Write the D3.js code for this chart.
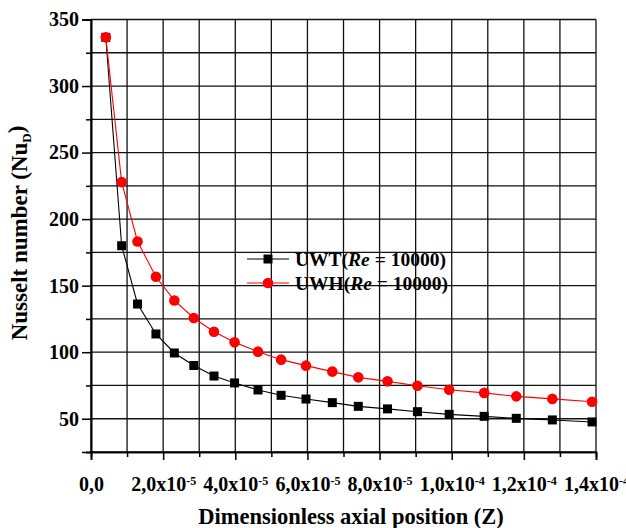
<!DOCTYPE html>
<html>
<head>
<meta charset="utf-8">
<script src="https://cdn.jsdelivr.net/npm/d3@7"></script>
<style>
  body { margin: 0; background: #fff; }
  text { font-family: "Liberation Serif", "Times New Roman", serif; font-weight: bold; }
</style>
</head>
<body>
<div id="chart"></div>
<script>
// data
var zPos = [0.41e-5, 0.85e-5, 1.29e-5, 1.80e-5, 2.31e-5, 2.85e-5, 3.41e-5, 3.98e-5, 4.63e-5, 5.27e-5,
            5.96e-5, 6.69e-5, 7.41e-5, 8.22e-5, 9.05e-5, 9.93e-5, 10.9e-5, 11.79e-5, 12.79e-5, 13.89e-5];
var nuUWT = [336.6, 180, 136.2, 113.7, 99.4, 90, 82.1, 76.9, 71.6, 67.6,
             64.8, 62.1, 59.3, 57.4, 55.3, 53.3, 51.8, 50.3, 49.1, 47.6];
var nuUWH = [336.6, 227.8, 183.2, 156.7, 138.9, 125.7, 115.4, 107.4, 100.4, 94.4,
             89.9, 85.4, 81.1, 78.1, 74.8, 71.8, 69.4, 66.8, 64.9, 62.8];

var xMajor = [0, 2e-5, 4e-5, 6e-5, 8e-5, 1.0e-4, 1.2e-4, 1.4e-4];
var xTickBase = ["0,0", "2,0x10", "4,0x10", "6,0x10", "8,0x10", "1,0x10", "1,2x10", "1,4x10"];
var xTickExp = ["", "-5", "-5", "-5", "-5", "-4", "-4", "-4"];
var xMinor = [1e-5, 3e-5, 5e-5, 7e-5, 9e-5, 1.1e-4, 1.3e-4];
var yMajor = [50, 100, 150, 200, 250, 300, 350];
var yMinor = [25, 75, 125, 175, 225, 275, 325];

var W = 626, H = 528;
var svg = d3.select("#chart").append("svg")
  .attr("width", W).attr("height", H);
svg.append("rect").attr("width", W).attr("height", H).attr("fill", "#fff");

var x = d3.scaleLinear().domain([0, 1.4e-4]).range([91, 596]);
var y = d3.scaleLinear().domain([25, 350]).range([452, 19.5]);

// grid
var gridX = xMajor.concat(xMinor);
var gridY = yMajor.concat(yMinor);
svg.append("g").selectAll("line").data(gridX).enter().append("line")
  .attr("x1", function(d) { return x(d); }).attr("x2", function(d) { return x(d); })
  .attr("y1", y(25)).attr("y2", y(350))
  .attr("stroke", "#111").attr("stroke-width", 1.3);
svg.append("g").selectAll("line").data(gridY).enter().append("line")
  .attr("x1", x(0)).attr("x2", x(1.4e-4))
  .attr("y1", function(d) { return y(d); }).attr("y2", function(d) { return y(d); })
  .attr("stroke", "#111").attr("stroke-width", 1.3);

// axes
var xAxis = svg.append("g")
  .attr("transform", "translate(0," + y(25) + ")")
  .call(d3.axisBottom(x).tickValues(xMajor).tickSize(8).tickPadding(17).tickFormat(function(d, i) { return xTickBase[i]; }));
svg.append("g")
  .attr("transform", "translate(0," + y(25) + ")")
  .call(d3.axisBottom(x).tickValues(xMinor).tickSize(5).tickFormat(""));
var yAxis = svg.append("g")
  .attr("transform", "translate(" + x(0) + ",0)")
  .call(d3.axisLeft(y).tickValues(yMajor).tickSize(9).tickPadding(3));
svg.append("g")
  .attr("transform", "translate(" + x(0) + ",0)")
  .call(d3.axisLeft(y).tickValues(yMinor).tickSize(5).tickFormat(""));

svg.selectAll(".domain").attr("stroke-width", 1.6);
svg.selectAll(".tick line").attr("stroke-width", 1.5);
svg.selectAll(".tick text").attr("font-size", 20).attr("fill", "#000")
  .style("font-family", "'Liberation Serif', serif").style("font-weight", "bold");

// superscript exponents on x labels
xAxis.selectAll(".tick text").each(function(d, i) {
  if (xTickExp[i]) {
    d3.select(this).append("tspan")
      .attr("font-size", 12).attr("dy", "-0.55em")
      .text(xTickExp[i]);
  }
});

// lines
var line = function(vals) {
  return d3.line()
    .x(function(d, i) { return x(zPos[i]); })
    .y(function(d) { return y(d); })(vals);
};
svg.append("path").attr("d", line(nuUWT)).attr("fill", "none").attr("stroke", "#000").attr("stroke-width", 1.1);
svg.append("path").attr("d", line(nuUWH)).attr("fill", "none").attr("stroke", "#f00").attr("stroke-width", 1.1);

svg.append("g").selectAll("rect").data(nuUWT).enter().append("rect")
  .attr("x", function(d, i) { return x(zPos[i]) - 4.5; })
  .attr("y", function(d) { return y(d) - 4.5; })
  .attr("width", 9).attr("height", 9).attr("fill", "#000");
svg.append("g").selectAll("circle").data(nuUWH).enter().append("circle")
  .attr("cx", function(d, i) { return x(zPos[i]); })
  .attr("cy", function(d) { return y(d); })
  .attr("r", 5.3).attr("fill", "#f00");

// legend
var legend = svg.append("g");
var legRows = [{label: "UWT(", color: "#000", shape: "square", y: 259},
               {label: "UWH(", color: "#f00", shape: "circle", y: 283}];
legRows.forEach(function(r) {
  legend.append("line").attr("x1", 247).attr("x2", 289).attr("y1", r.y).attr("y2", r.y)
    .attr("stroke", r.color).attr("stroke-width", 1.1);
  if (r.shape == "square") {
    legend.append("rect").attr("x", 263.5).attr("y", r.y - 4.5).attr("width", 9).attr("height", 9).attr("fill", r.color);
  } else {
    legend.append("circle").attr("cx", 268).attr("cy", r.y).attr("r", 5.3).attr("fill", r.color);
  }
  var t = legend.append("text").attr("x", 295).attr("y", r.y + 6.5).attr("font-size", 19.5);
  t.append("tspan").text(r.label);
  t.append("tspan").attr("font-style", "italic").text("Re");
  t.append("tspan").text(" = 10000)");
});

// axis titles
svg.append("text")
  .attr("x", 351).attr("y", 524).attr("text-anchor", "middle").attr("font-size", 22.5)
  .text("Dimensionless axial position (Z)");
var yt = svg.append("text")
  .attr("transform", "translate(27,233) rotate(-90)")
  .attr("text-anchor", "middle").attr("font-size", 23);
yt.append("tspan").text("Nusselt number (Nu");
yt.append("tspan").attr("font-size", 13).attr("dy", "0.3em").text("D");
yt.append("tspan").attr("dy", "-0.3em").text(")");
</script>
</body>
</html>
